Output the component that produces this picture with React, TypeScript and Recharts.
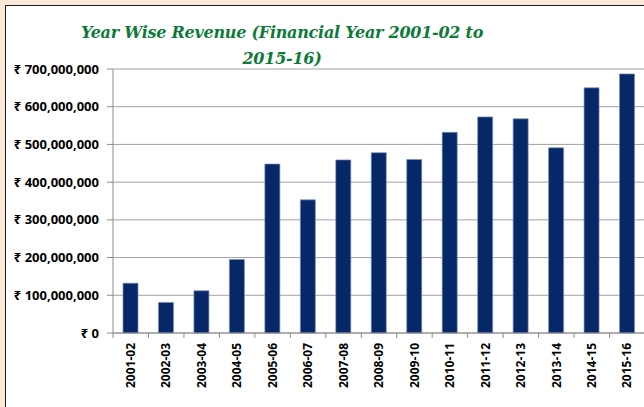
import { BarChart, Bar, XAxis, YAxis, CartesianGrid } from 'recharts';

const YEARS = [
  '2001-02', '2002-03', '2003-04', '2004-05', '2005-06', '2006-07', '2007-08', '2008-09',
  '2009-10', '2010-11', '2011-12', '2012-13', '2013-14', '2014-15', '2015-16',
];
const REVENUE = [
  132000000, 81000000, 112000000, 195000000, 448000000, 353000000, 459000000, 478000000,
  460000000, 532000000, 573000000, 568000000, 491000000, 650000000, 687000000,
];
const Y_TICKS = [0, 100000000, 200000000, 300000000, 400000000, 500000000, 600000000, 700000000];

const data = YEARS.map((year, i) => ({ year, revenue: REVENUE[i] }));

const CHART_W = 645;
const Y_AXIS_W = 113;
const BAND = (CHART_W - Y_AXIS_W) / YEARS.length;

const fmtRupee = (v: number) => `₹ ${v.toLocaleString('en-US')}`;

function YearTick({ x, y, payload }: any) {
  const half = BAND / 2;
  return (
    <g transform={`translate(${x},${y})`}>
      <line x1={-half} y1={0} x2={-half} y2={5} stroke="#8c8c8c" />
      <text
        transform="rotate(-90)"
        x={-10}
        y={0}
        dy="0.35em"
        textAnchor="end"
        fill="#000"
        style={{ fontFamily: '"Noto Sans", sans-serif', fontSize: 12, fontWeight: 700 }}
      >
        {payload.value}
      </text>
    </g>
  );
}

export default function App() {
  return (
    <div style={{ position: 'fixed', left: 0, top: 0, width: 644, height: 407, overflow: 'hidden', background: '#fce9da' }}>
      <div style={{ position: 'absolute', left: 5, top: 5, width: 700, height: 500, border: '1px solid #1c1c1c', background: '#fff' }} />
      <div
        style={{
          position: 'absolute', left: 2, top: 19.5, width: 560, textAlign: 'center',
          fontFamily: '"DejaVu Serif", serif', fontStyle: 'italic', fontWeight: 700,
          fontSize: 16, letterSpacing: -0.25, lineHeight: '26px', color: '#0d7a3a',
        }}
      >
        Year Wise Revenue (Financial Year 2001-02 to
        <br />
        2015-16)
      </div>
      <div style={{ position: 'absolute', left: 0, top: 0 }}>
        <BarChart width={CHART_W} height={407} data={data} margin={{ top: 69, right: 0, bottom: 0, left: 0 }}>
          <CartesianGrid vertical={false} stroke="#a3a3a3" />
          <XAxis
            dataKey="year"
            height={74}
            interval={0}
            tickLine={false}
            tickSize={0}
            tickMargin={0}
            axisLine={{ stroke: '#8c8c8c' }}
            tick={<YearTick />}
          />
          <YAxis
            width={Y_AXIS_W}
            domain={[0, 700000000]}
            ticks={Y_TICKS}
            tickFormatter={fmtRupee}
            tickSize={6}
            tickMargin={8}
            axisLine={{ stroke: '#8c8c8c' }}
            tickLine={{ stroke: '#8c8c8c' }}
            tick={{ fill: '#000', fontSize: 13, fontWeight: 700, fontFamily: '"Noto Sans", sans-serif' }}
          />
          <Bar
            dataKey="revenue"
            fill="#062768"
            stroke="#7d8db5"
            strokeWidth={1}
            strokeOpacity={0.7}
            barSize={15}
            isAnimationActive={false}
          />
        </BarChart>
      </div>
    </div>
  );
}
